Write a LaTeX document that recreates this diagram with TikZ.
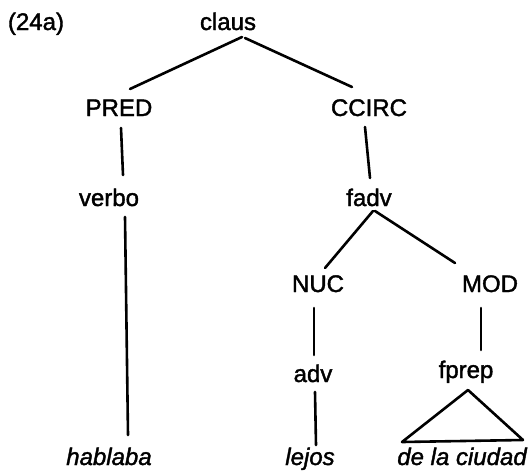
\documentclass[tikz,border=0pt]{standalone}
\usepackage{fontspec}
\setmainfont{Liberation Sans}[FakeBold=1.6]
\usetikzlibrary{calc}
\begin{document}
\begin{tikzpicture}[x=1pt,y=-1pt,
  lbl/.style={anchor=base,inner sep=0pt,font=\fontsize{24}{28}\selectfont},
  leaf/.style={lbl,font=\fontsize{24}{28}\selectfont\itshape},
  edge/.style={line width=2.6pt,line cap=round,line join=round}]
\useasboundingbox (0,0) rectangle (529,471);
\node[lbl] (ex) at (36,30) {(24a)};
\node[lbl] (claus) at (228,30) {claus};
\node[lbl] (pred) at (119,116) {PRED};
\node[lbl] (ccirc) at (369,116) {CCIRC};
\node[lbl] (verbo) at (109,206) {verbo};
\node[lbl] (fadv) at (369,206) {fadv};
\node[lbl] (nuc) at (318,292) {NUC};
\node[lbl] (mod) at (490,292) {MOD};
\node[lbl] (adv) at (313,382) {adv};
\node[lbl] (fprep) at (466,378) {fprep};
\node[leaf] (hab) at (109,465) {hablaba};
\node[leaf] (lej) at (310,465) {lejos};
\node[leaf] (ciu) at (462,465) {de la ciudad};
\draw[edge] ($(claus.base)+(14,7)$) -- ($(pred.base)+(11,-27)$);
\draw[edge] ($(claus.base)+(17,8)$) -- ($(ccirc.base)+(-17,-29)$);
\draw[edge] ($(pred.base)+(2,12)$) -- ($(verbo.base)+(14,-31)$);
\draw[edge] ($(ccirc.base)+(-4,11)$) -- ($(fadv.base)+(1,-28)$);
\draw[edge] ($(verbo.base)+(16,11)$) -- ($(hab.base)+(19,-30)$);
\draw[edge] ($(fadv.base)+(4,5)$) -- ($(nuc.base)+(7,-24)$);
\draw[edge] ($(fadv.base)+(6,5)$) -- ($(mod.base)+(-35,-29)$);
\draw[edge] ($(nuc.base)+(-4,16)$) -- ($(adv.base)+(1,-27)$);
\draw[edge] ($(mod.base)+(-9,16)$) -- ($(fprep.base)+(15,-28)$);
\draw[edge] ($(adv.base)+(2,10)$) -- ($(lej.base)+(6,-20)$);
\draw[edge] ($(fprep.base)+(2,12)$) -- ($(ciu.base)+(-60,-23)$) -- ($(ciu.base)+(61,-25)$) -- cycle;
\end{tikzpicture}
\end{document}
